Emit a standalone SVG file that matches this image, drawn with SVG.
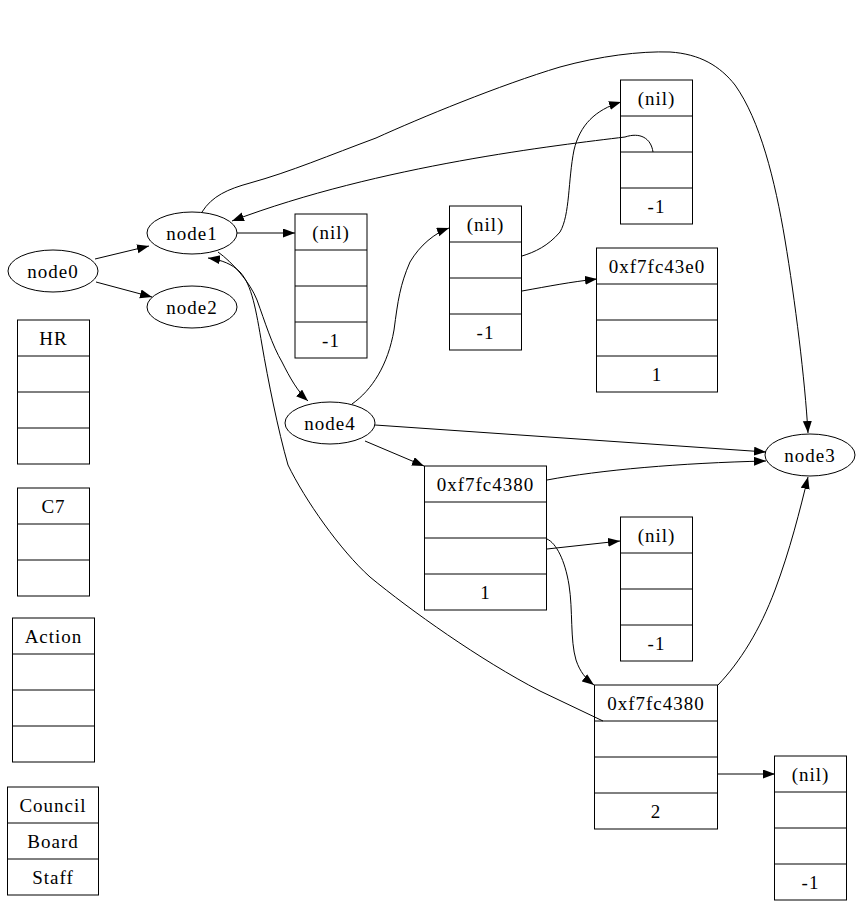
<svg xmlns="http://www.w3.org/2000/svg" width="863" height="907" viewBox="0 0 863 907">
<style>
.n{fill:#fff;stroke:#000;stroke-width:1}
.l{stroke:#000;stroke-width:1;fill:none}
.e{stroke:#000;stroke-width:1;fill:none;marker-end:url(#a)}
text{font-family:"Liberation Serif","Times New Roman",serif;font-size:19px;letter-spacing:1px;text-anchor:middle;fill:#000}
</style>
<defs>
<marker id="a" markerUnits="userSpaceOnUse" markerWidth="13" markerHeight="10" refX="12" refY="4.5" orient="auto">
<path d="M0,0 L12,4.5 L0,9 z" fill="#000"/>
</marker>
</defs>
<rect width="863" height="907" fill="#fff"/>
<g id="node0"><ellipse class="n" cx="53" cy="271" rx="45" ry="21"/><text x="53" y="277.5">node0</text></g>
<g id="node1"><ellipse class="n" cx="192" cy="233" rx="45" ry="21"/><text x="192" y="239.5">node1</text></g>
<g id="node2"><ellipse class="n" cx="192" cy="307" rx="45" ry="21"/><text x="192" y="313.5">node2</text></g>
<g id="node4"><ellipse class="n" cx="330" cy="423" rx="45" ry="21"/><text x="330" y="429.5">node4</text></g>
<g id="node3"><ellipse class="n" cx="810" cy="455" rx="45" ry="21"/><text x="810" y="461.5">node3</text></g>
<g id="recA"><rect class="n" x="295" y="214" width="72" height="144"/><path class="l" d="M295,250H367M295,286H367M295,322H367"/><text x="331" y="238.5">(nil)</text><text x="331" y="346.5">-1</text></g>
<g id="recB"><rect class="n" x="449.5" y="206" width="72" height="144"/><path class="l" d="M449.5,242H521.5M449.5,278H521.5M449.5,314H521.5"/><text x="485.5" y="230.5">(nil)</text><text x="485.5" y="338.5">-1</text></g>
<g id="recC"><rect class="n" x="620.5" y="80" width="72" height="144"/><path class="l" d="M620.5,116H692.5M620.5,152H692.5M620.5,188H692.5"/><text x="656.5" y="104.5">(nil)</text><text x="656.5" y="212.5">-1</text></g>
<g id="recD"><rect class="n" x="596.5" y="248" width="121" height="144"/><path class="l" d="M596.5,284H717.5M596.5,320H717.5M596.5,356H717.5"/><text x="657" y="272.5">0xf7fc43e0</text><text x="657" y="380.5">1</text></g>
<g id="recE"><rect class="n" x="424.5" y="466" width="122" height="144"/><path class="l" d="M424.5,502H546.5M424.5,538H546.5M424.5,574H546.5"/><text x="485.5" y="490.5">0xf7fc4380</text><text x="485.5" y="598.5">1</text></g>
<g id="recF"><rect class="n" x="620.5" y="517" width="72" height="144"/><path class="l" d="M620.5,553H692.5M620.5,589H692.5M620.5,625H692.5"/><text x="656.5" y="541.5">(nil)</text><text x="656.5" y="649.5">-1</text></g>
<g id="recG"><rect class="n" x="594.5" y="685" width="123" height="144"/><path class="l" d="M594.5,721H717.5M594.5,757H717.5M594.5,793H717.5"/><text x="656" y="709.5">0xf7fc4380</text><text x="656" y="817.5">2</text></g>
<g id="recH"><rect class="n" x="774.5" y="756" width="72" height="144"/><path class="l" d="M774.5,792H846.5M774.5,828H846.5M774.5,864H846.5"/><text x="810.5" y="780.5">(nil)</text><text x="810.5" y="888.5">-1</text></g>
<g id="HR"><rect class="n" x="17.5" y="320" width="72" height="144"/><path class="l" d="M17.5,356H89.5M17.5,392H89.5M17.5,428H89.5"/><text x="53.5" y="344.5">HR</text></g>
<g id="C7"><rect class="n" x="17.5" y="488" width="72" height="108"/><path class="l" d="M17.5,524H89.5M17.5,560H89.5"/><text x="53.5" y="512.5">C7</text></g>
<g id="Action"><rect class="n" x="12.5" y="618" width="82" height="144"/><path class="l" d="M12.5,654H94.5M12.5,690H94.5M12.5,726H94.5"/><text x="53.5" y="642.5">Action</text></g>
<g id="Council"><rect class="n" x="7.5" y="787" width="91" height="108"/><path class="l" d="M7.5,823H98.5M7.5,859H98.5"/><text x="53" y="811.5">Council</text><text x="53" y="847.5">Board</text><text x="53" y="883.5">Staff</text></g>
<g id="edges">
<path class="e" d="M95,259 L149,246"/>
<path class="e" d="M96,282 L152,297"/>
<path class="e" d="M237,233 L295,233"/>
<path class="e" d="M653,152 C651,138 640,132 625,137 C560,145 380,165 232,221"/>
<path class="e" d="M202,212 C212,196 228,189 250,183 C290,172 330,155 376,138 C420,118 500,85 560,67 C600,56 640,51 670,52 C700,54 720,66 735,85 C760,120 775,180 785,240 C795,300 805,380 808,433"/>
<path class="e" d="M218,252 C232,262 250,282 257,300 C265,322 272,345 282,362 C290,378 298,392 308,401"/>
<path class="e" d="M603,721 L540,691 C480,660 410,610 370,577 C340,550 305,500 288,465 C278,430 268,380 262,345 C256,310 252,285 240,272 C232,264 222,260 208,258"/>
<path class="e" d="M352,404 C372,390 388,365 394,330 C398,300 400,285 410,262 C420,245 435,233 449,228"/>
<path class="e" d="M522,256 C535,252 548,246 560,232 C570,215 568,180 574,150 C580,125 595,110 621,102"/>
<path class="e" d="M522,291 C550,286 570,282 597,279"/>
<path class="e" d="M375,425 L766,452"/>
<path class="e" d="M547,480 C600,470 680,463 766,461"/>
<path class="e" d="M365,441 L424,466"/>
<path class="e" d="M547,549 L620,541"/>
<path class="e" d="M547,539 C556,543 565,560 569,585 C573,610 570,640 576,660 C580,672 586,679 594,685"/>
<path class="e" d="M718,685 C740,662 760,630 775,590 C790,550 800,510 808,477"/>
<path class="e" d="M717,774 L775,774"/>
</g>
</svg>
